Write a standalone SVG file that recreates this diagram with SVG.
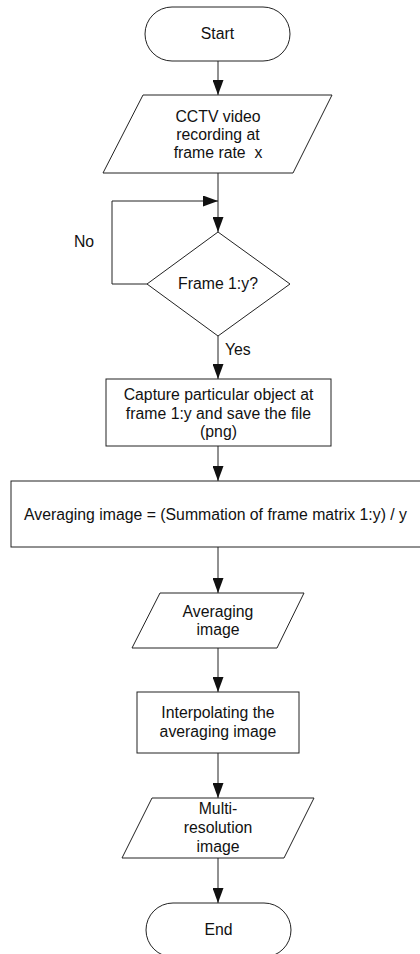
<svg xmlns="http://www.w3.org/2000/svg" width="420" height="954" viewBox="0 0 420 954">
<defs>
<marker id="ah" markerWidth="16" markerHeight="11" refX="15" refY="5.5" orient="auto" markerUnits="userSpaceOnUse">
<path d="M0,0 L15,5.5 L0,11 z" fill="#111"/>
</marker>
<style>
.s{fill:#fff;stroke:#222;stroke-width:1}
.t{font-family:"Liberation Sans",Arial,sans-serif;font-size:15.8px;fill:#111;text-anchor:middle}
.c{fill:none;stroke:#222;stroke-width:1;marker-end:url(#ah)}
</style>
</defs>
<rect width="420" height="954" fill="#fff"/>
<g id="connectors">
<line class="c" x1="218" y1="61" x2="218" y2="95"/>
<line class="c" x1="218" y1="173" x2="218" y2="232"/>
<polyline class="c" points="147,284 112,284 112,201 218,201"/>
<line class="c" x1="218" y1="336" x2="218" y2="379"/>
<line class="c" x1="218" y1="446" x2="218" y2="481"/>
<line class="c" x1="218" y1="547" x2="218" y2="593"/>
<line class="c" x1="218" y1="648" x2="218" y2="692"/>
<line class="c" x1="218" y1="753" x2="218" y2="798"/>
<line class="c" x1="218" y1="858" x2="218" y2="903"/>
<text class="t" x="84" y="247">No</text>
<text class="t" x="225" y="355" style="text-anchor:start">Yes</text>
</g>
<g id="start">
<rect class="s" x="145" y="7" width="145" height="54" rx="27" ry="27"/>
<text class="t" x="217.5" y="39">Start</text>
</g>
<g id="cctv">
<polygon class="s" points="143,95 332,95 293,173 103,173"/>
<text class="t" x="218" y="122">CCTV video</text>
<text class="t" x="218" y="140">recording at</text>
<text class="t" x="218" y="158" xml:space="preserve">frame rate  x</text>
</g>
<g id="decision">
<polygon class="s" points="218,232 290,284 218,336 147,284"/>
<text class="t" x="218" y="289">Frame 1:y?</text>
</g>
<g id="capture">
<rect class="s" x="106" y="379" width="225" height="67"/>
<text class="t" x="218.5" y="400">Capture particular object at</text>
<text class="t" x="218.5" y="418.5">frame 1:y and save the file</text>
<text class="t" x="218.5" y="437">(png)</text>
</g>
<g id="averaging">
<rect class="s" x="11" y="481" width="412" height="66"/>
<text class="t" x="215.5" y="520">Averaging image = (Summation of frame matrix 1:y) / y</text>
</g>
<g id="avgimage">
<polygon class="s" points="160,593 304,593 277,648 132,648"/>
<text class="t" x="218" y="617">Averaging</text>
<text class="t" x="218" y="635">image</text>
</g>
<g id="interp">
<rect class="s" x="137" y="692" width="162" height="61"/>
<text class="t" x="218" y="718">Interpolating the</text>
<text class="t" x="218" y="737">averaging image</text>
</g>
<g id="multires">
<polygon class="s" points="152,798 314,798 284,858 122,858"/>
<text class="t" x="218" y="814">Multi-</text>
<text class="t" x="218" y="833">resolution</text>
<text class="t" x="218" y="852">image</text>
</g>
<g id="end">
<rect class="s" x="146" y="903" width="145" height="54" rx="27" ry="27"/>
<text class="t" x="218.5" y="935">End</text>
</g>
</svg>
